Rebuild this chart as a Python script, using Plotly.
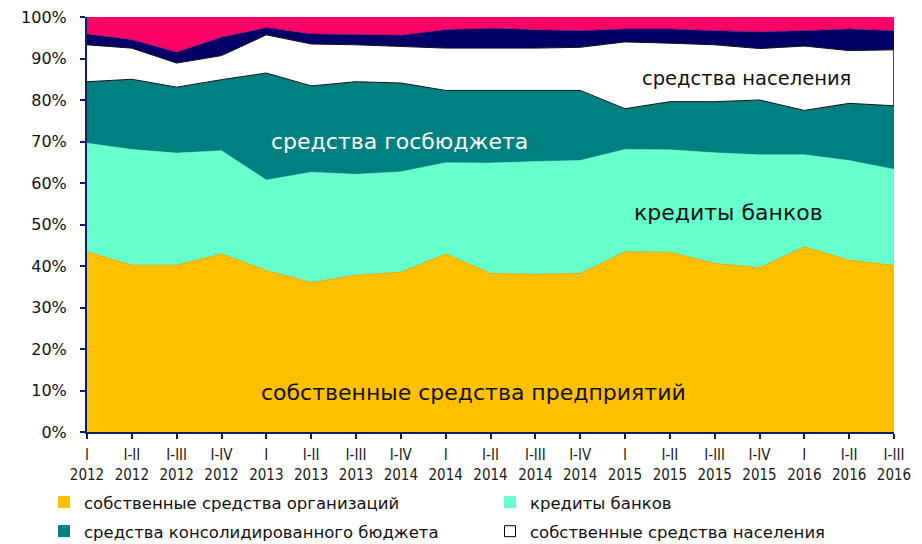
import plotly.graph_objects as go

# Periods (tick labels as shown in the source, including its duplicated "I-IV 2014")
periods = ["I<br>2012", "I-II<br>2012", "I-III<br>2012", "I-IV<br>2012",
           "I<br>2013", "I-II<br>2013", "I-III<br>2013", "I-IV<br>2014",
           "I<br>2014", "I-II<br>2014", "I-III<br>2014", "I-IV<br>2014",
           "I<br>2015", "I-II<br>2015", "I-III<br>2015", "I-IV<br>2015",
           "I<br>2016", "I-II<br>2016", "I-III<br>2016"]

# Shares of investment financing sources, %
own_org = [43.4, 40.2, 40.2, 42.9, 38.9, 36.0, 37.8, 38.5, 42.9, 38.2,
           38.0, 38.2, 43.4, 43.3, 40.6, 39.6, 44.6, 41.4, 40.1]
bank_credit = [26.2, 27.9, 27.0, 24.9, 21.8, 26.6, 24.3, 24.2, 22.0, 26.6,
               27.2, 27.2, 24.7, 24.7, 26.7, 27.2, 22.2, 24.0, 23.2]
budget = [14.8, 16.9, 15.9, 17.1, 25.8, 20.8, 22.3, 21.4, 17.4, 17.5,
          17.1, 16.9, 9.8, 11.6, 12.3, 13.2, 10.7, 13.8, 15.3]
population = [8.9, 7.5, 5.8, 5.8, 9.2, 10.1, 8.9, 8.8, 10.2, 10.2,
              10.2, 10.4, 16.1, 14.1, 13.7, 12.4, 15.5, 12.7, 13.5]
other_1 = [2.6, 2.0, 2.6, 4.4, 1.7, 2.4, 2.5, 2.7, 4.4, 4.8,
           4.4, 4.0, 3.1, 3.4, 3.4, 4.0, 3.7, 5.2, 4.6]
other_2 = [4.1, 5.5, 8.5, 4.9, 2.6, 4.1, 4.2, 4.4, 3.1, 2.7,
           3.1, 3.3, 2.9, 2.9, 3.3, 3.6, 3.3, 2.9, 3.3]

y_ticks = list(range(0, 101, 10))

x_idx = list(range(len(periods)))
FONT = "Verdana, DejaVu Sans, sans-serif"
XFONT = "Tahoma, DejaVu Sans Condensed, Liberation Sans, sans-serif"
NAVY_AXIS = "#0b1f6a"

series = [
    ("собственные средства организаций", own_org, "#FFC000", "#E8AE00", 1, True),
    ("кредиты банков", bank_credit, "#66FFCC", "#66FFCC", 0.5, True),
    ("средства консолидированного бюджета", budget, "#008080", "#111111", 1, True),
    ("собственные средства населения", population, "#FFFFFF", "#111111", 1, True),
    ("прочие привлечённые средства", other_1, "#000066", "#000066", 0.5, False),
    ("другие источники", other_2, "#FF0066", "#FF0066", 0.5, False),
]

fig = go.Figure()
for name, vals, fill, line, lw, _ in series:
    fig.add_trace(go.Scatter(
        x=x_idx, y=vals, name=name, stackgroup="one", mode="lines",
        fillcolor=fill, line=dict(color=line, width=lw), showlegend=False,
        hoverinfo="skip"))

# black outline of the population band at the right edge
last = len(periods) - 1
pop_bottom = own_org[last] + bank_credit[last] + budget[last]
pop_top = pop_bottom + population[last]
fig.add_trace(go.Scatter(x=[last, last], y=[pop_bottom, pop_top], mode="lines",
                         line=dict(color="#111111", width=1.5), showlegend=False,
                         hoverinfo="skip", cliponaxis=False))

# legend entries (square markers), 2x2 grid, one legend box per entry
PL, PW, PB, PH = 87, 807, 431.7, 414.4   # plot-area geometry in px
legend_pos = [(44, 502), (490, 502), (44, 531), (490, 531)]  # item start x, centre y
legend_layout = {}
for i, ((name, vals, fill, line, lw, show), (lx, ly)) in enumerate(zip(series[:4], legend_pos)):
    lg = "legend" if i == 0 else f"legend{i + 1}"
    border = "#000000" if fill == "#FFFFFF" else fill
    fig.add_trace(go.Scatter(
        x=[None], y=[None], mode="markers", name=name, legend=lg,
        marker=dict(symbol="square", size=11, color=fill,
                    line=dict(color=border, width=1)),
        showlegend=True))
    legend_layout[lg] = dict(
        orientation="h", x=(lx - PL) / PW, xanchor="left",
        y=(PB - ly) / PH, yanchor="middle", traceorder="normal",
        font=dict(family=FONT, size=16.5, color="#111111"),
        bgcolor="rgba(0,0,0,0)", itemwidth=30)

annotations = [
    dict(text="собственные средства предприятий", x=473, y=392, size=22, color="#111111"),
    dict(text="средства госбюджета", x=399, y=142, size=22, color="#FFFFFF"),
    dict(text="кредиты банков", x=728, y=213, size=22, color="#111111"),
    dict(text="средства населения", x=746, y=79, size=19.5, color="#111111"),
]
ann_list = []
for a in annotations:
    ann_list.append(dict(text=a["text"], x=(a["x"] - PL) / PW, y=(PB - a["y"]) / PH,
                         xref="paper", yref="paper", showarrow=False,
                         xanchor="center", yanchor="middle",
                         font=dict(family=FONT, size=a["size"], color=a["color"])))

fig.update_layout(
    width=922, height=544,
    margin=dict(l=87, r=28, t=17, b=112, autoexpand=False),
    paper_bgcolor="#FFFFFF", plot_bgcolor="#FFFFFF",
    font=dict(family=FONT, size=15, color="#111111"),
    annotations=ann_list,
    xaxis=dict(range=[0, last], tickmode="array", tickvals=x_idx, ticktext=periods,
               showgrid=False, zeroline=False, showline=True, linecolor=NAVY_AXIS, linewidth=2,
               ticks="outside", ticklen=5, tickcolor=NAVY_AXIS, tickwidth=2,
               tickfont=dict(family=XFONT, size=15, color="#1a1a1a"), tickangle=0,
               ticklabelstandoff=3),
    yaxis=dict(range=[0, 100], tickmode="array", tickvals=y_ticks,
               ticktext=[f"{v}%" for v in y_ticks],
               showgrid=False, zeroline=False, showline=True, linecolor=NAVY_AXIS, linewidth=2,
               ticks="outside", ticklen=5, tickcolor=NAVY_AXIS, tickwidth=2,
               tickfont=dict(family=FONT, size=16, color="#111111"), ticklabelstandoff=10),
    hovermode=False,
    **legend_layout,
)

fig.write_html("out.html", config={"displayModeBar": False},
               post_script="document.body.style.margin='0';")
